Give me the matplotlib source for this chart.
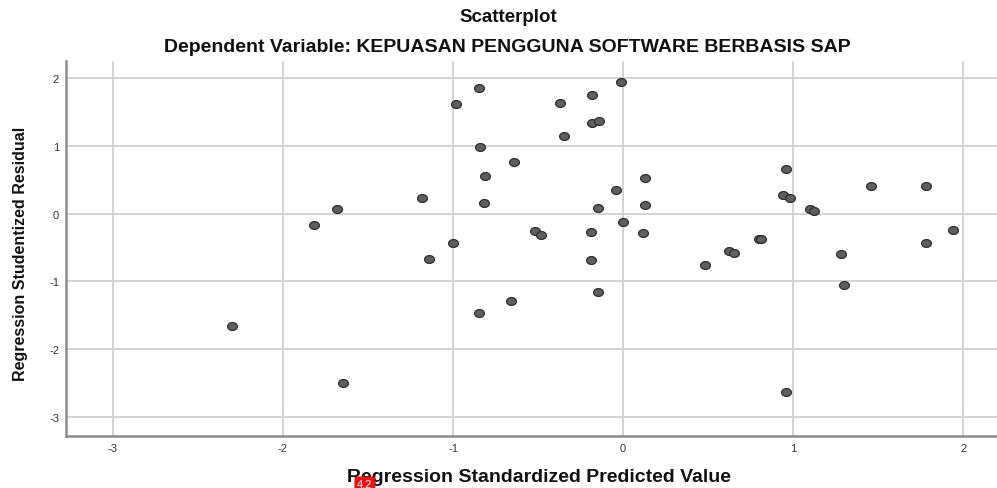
import numpy as np
import matplotlib.pyplot as plt
from matplotlib.path import Path

# nilai
pred = [-2.30, -1.65, -1.82, -1.68, -1.18, -1.00, -1.14, -0.98, -0.85, -0.84,
        -0.81, -0.82, -0.85, -0.66, -0.64, -0.52, -0.48, -0.37, -0.35, -0.18,
        -0.18, -0.14, -0.19, -0.19, -0.15, -0.15, -0.01, -0.04, 0.00, 0.13,
        0.13, 0.12, 0.48, 0.62, 0.65, 0.80, 0.81, 0.96, 0.94, 0.98,
        1.10, 1.12, 0.96, 1.46, 1.78, 1.94, 1.78, 1.28, 1.30]
resid = [-1.66, -2.50, -0.17, 0.07, 0.23, -0.43, -0.67, 1.62, 1.86, 0.99,
         0.56, 0.16, -1.47, -1.29, 0.76, -0.25, -0.31, 1.63, 1.15, 1.75,
         1.34, 1.37, -0.27, -0.68, 0.08, -1.16, 1.95, 0.35, -0.12, 0.53,
         0.13, -0.28, -0.76, -0.55, -0.58, -0.37, -0.38, 0.66, 0.28, 0.23,
         0.07, 0.04, -2.64, 0.41, 0.41, -0.24, -0.43, -0.60, -1.05]
xticks = [-3, -2, -1, 0, 1, 2]
yticks = [-3, -2, -1, 0, 1, 2]

plt.rcParams['font.family'] = ['Liberation Sans', 'DejaVu Sans']

fig = plt.figure(figsize=(9.97, 4.89), dpi=100)
ax = fig.add_axes([0.0662, 0.107, 0.934, 0.767])

# penanda elips (sedikit lebih lebar dari tinggi)
t = np.linspace(0, 2 * np.pi, 40)
ellipse = Path(np.column_stack([0.5 * np.cos(t), 0.4 * np.sin(t)]), closed=True)

ax.scatter(pred, resid, s=50, marker=ellipse, facecolor='#5f5f5f',
           edgecolor='#2e2e2e', linewidth=0.9, zorder=3)

ax.set_xlim(-3.276, 2.2)
ax.set_ylim(-3.28, 2.26)
ax.set_xticks(xticks)
ax.set_yticks(yticks)
ax.set_xticklabels([str(v) for v in xticks])
ax.set_yticklabels([str(v) for v in yticks])
ax.tick_params(length=0, labelsize=8, colors='#333333', pad=5)
ax.grid(True, color='#d4d4d4', linewidth=1.5)
ax.set_axisbelow(True)

for side in ['top', 'right']:
    ax.spines[side].set_visible(False)
for side in ['left', 'bottom']:
    ax.spines[side].set_color('#8c8c8c')
    ax.spines[side].set_linewidth(1.8)

ax.set_xlabel('Regression Standardized Predicted Value', fontsize=14,
              fontweight='bold', color='#111111')
ax.set_ylabel('Regression Studentized Residual', fontsize=11.5,
              fontweight='bold', color='#111111')
ax.xaxis.set_label_coords(0.5075, -0.11)
ax.yaxis.set_label_coords(-0.049, 0.487)
ax.xaxis.label.set_va('center')
ax.yaxis.label.set_va('center')

fig.text(0.510, 0.965, 'Scatterplot', ha='center', va='center',
         fontsize=13.5, fontweight='bold', color='#111111')
fig.text(0.509, 0.903, 'Dependent Variable: KEPUASAN PENGGUNA SOFTWARE BERBASIS SAP',
         ha='center', va='center', fontsize=14, fontweight='bold', color='#111111')

# lencana merah kecil di bawah
fig.text(0.366, 0.018, '4.2', ha='center', va='top', fontsize=8,
         color='white', zorder=5,
         bbox=dict(boxstyle='round,pad=0.25', fc='#ee1111', ec='none'))

fig.savefig('out.png', dpi=100)
